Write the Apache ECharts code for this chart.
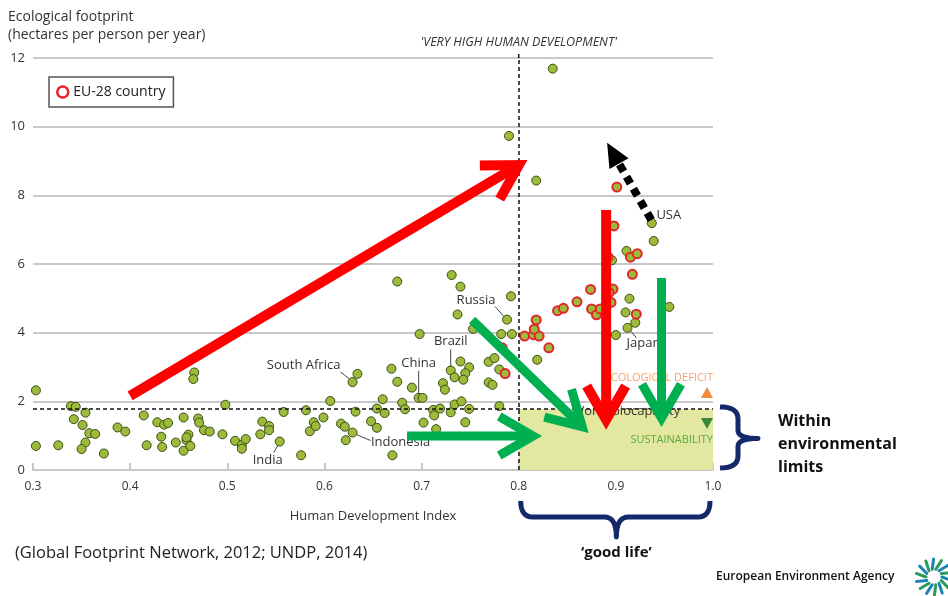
<!DOCTYPE html>
<html>
<head>
<meta charset="utf-8">
<script src="https://cdn.jsdelivr.net/npm/echarts@6/dist/echarts.min.js"></script>
<style>html,body{margin:0;background:#fff}#main{width:948px;height:596px}</style>
</head>
<body>
<div id="main"></div>
<script>
var dom = document.getElementById("main");
var chart = echarts.init(dom);

// HDI / ecological footprint, non EU countries
var hdiWorld = [0.303, 0.303, 0.326, 0.339, 0.344, 0.354, 0.342, 0.351, 0.358, 0.364, 0.354, 0.350, 0.373,
    0.387, 0.395, 0.414, 0.417, 0.428, 0.435, 0.439, 0.432, 0.433, 0.447, 0.455, 0.455, 0.458, 0.460, 0.458,
    0.462, 0.466, 0.465, 0.470, 0.471, 0.476, 0.482, 0.495, 0.498, 0.508, 0.515, 0.515, 0.519, 0.534, 0.536,
    0.543, 0.543, 0.554, 0.558, 0.576, 0.581, 0.585, 0.589, 0.591, 0.599, 0.606, 0.617, 0.621, 0.629, 0.622,
    0.629, 0.634, 0.632, 0.648, 0.654, 0.654, 0.660, 0.662, 0.670, 0.669, 0.675, 0.680, 0.683, 0.690, 0.675,
    0.740, 0.792, 0.737, 0.788, 0.698, 0.753, 0.782, 0.793, 0.697, 0.701, 0.702, 0.715, 0.712, 0.713, 0.719,
    0.730, 0.734, 0.741, 0.745, 0.749, 0.722, 0.724, 0.730, 0.734, 0.740, 0.749, 0.745, 0.743, 0.769, 0.775,
    0.769, 0.773, 0.780, 0.780, 0.819, 0.731, 0.896, 0.911, 0.914, 0.910, 0.920, 0.912, 0.900, 0.955, 0.818,
    0.937, 0.939, 0.835, 0.790];
var efWorld = [2.32, 0.70, 0.72, 1.86, 1.84, 1.67, 1.48, 1.31, 1.07, 1.05, 0.80, 0.61, 0.48,
    1.24, 1.12, 1.59, 0.72, 1.39, 1.32, 1.37, 0.97, 0.67, 0.80, 1.53, 0.56, 0.87, 1.03, 0.95,
    0.70, 2.84, 2.65, 1.50, 1.38, 1.16, 1.12, 1.04, 1.90, 0.85, 0.73, 0.62, 0.90, 1.04, 1.41,
    1.28, 1.16, 0.83, 1.69, 0.43, 1.74, 1.13, 1.39, 1.28, 1.53, 2.01, 1.35, 1.26, 1.09, 0.87,
    2.56, 2.80, 1.70, 1.42, 1.23, 1.79, 2.06, 1.66, 0.43, 2.95, 2.57, 1.96, 1.77, 2.40, 5.49,
    5.34, 5.06, 4.53, 4.38, 3.96, 4.11, 3.96, 3.96, 2.10, 2.10, 1.38, 1.19, 1.75, 1.59, 1.79,
    1.68, 1.91, 2.00, 1.39, 1.78, 2.53, 2.34, 2.90, 2.70, 3.16, 2.99, 2.82, 2.63, 3.15, 3.26,
    2.55, 2.48, 2.93, 1.86, 3.21, 5.68, 6.11, 6.38, 4.99, 4.59, 4.29, 4.14, 3.93, 4.75, 8.43,
    7.19, 6.67, 11.69, 9.73];

// EU-28 countries
var hdiEU = [0.786, 0.783, 0.806, 0.815, 0.821, 0.816, 0.818, 0.831, 0.840, 0.846, 0.860, 0.874, 0.875,
    0.880, 0.884, 0.897, 0.893, 0.895, 0.917, 0.915, 0.922, 0.921, 0.892, 0.898, 0.901];
var efEU = [2.81, 3.56, 3.90, 3.94, 3.90, 4.10, 4.37, 3.56, 4.64, 4.71, 4.90, 5.26, 4.69,
    4.52, 4.69, 5.27, 5.17, 4.88, 5.70, 6.20, 6.30, 4.54, 6.20, 7.11, 8.24];

var xTicks = [0.3, 0.4, 0.5, 0.6, 0.7, 0.8, 0.9, 1.0];
var yTicks = [0, 2, 4, 6, 8, 10, 12];
var veryHighHdi = 0.8;
var biocapacity = 1.78;

// named countries: [name, hdi, ef, text offset px, leader line offsets px]
var named = [
    ['Russia', 0.788, 4.38, [-31, -19], [[-12, -13], [-3, -3]]],
    ['Brazil', 0.730, 2.90, [0, -29], [[0, -21], [0, -4]]],
    ['China', 0.697, 2.10, [0, -35], [[0, -27], [0, -4]]],
    ['South Africa', 0.629, 2.56, [-49, -17], [[-12, -10], [-3, -3]]],
    ['Indonesia', 0.629, 1.09, [48, 10], [[18, 8], [4, 2]]],
    ['India', 0.554, 0.83, [-12, 19], [[-6, 11], [-2, 4]]],
    ['USA', 0.937, 7.19, [17, -8], null],
    ['Japan', 0.912, 4.14, [16, 15], [[3, 3], [9, 10]]]
];

// arrows in data space: [from, to, colour, width]
var arrows = [
    [[0.400, 2.16], [0.809, 9.03], '#ff0000', 10],
    [[0.890, 7.57], [0.890, 1.17], '#ff0000', 10],
    [[0.752, 4.37], [0.872, 1.08], '#00b050', 9],
    [[0.685, 0.99], [0.824, 0.99], '#00b050', 9],
    [[0.947, 5.59], [0.947, 1.25], '#00b050', 9]
];
var dottedArrow = [[0.9365, 7.28], [0.891, 9.53]];

function pairs(xs, ys) {
    return xs.map(function (x, i) { return [x, ys[i]]; });
}

var font = 'Open Sans';

option = {
    animation: false,
    backgroundColor: '#fff',
    textStyle: { fontFamily: font },
    grid: { left: 33, right: 235, top: 58, bottom: 126 },
    legend: {
        left: 49, top: 77,
        padding: [8, 8, 8, 7],
        borderColor: '#555', borderWidth: 1.5, borderRadius: 0,
        itemWidth: 11, itemHeight: 11, itemGap: 6,
        textStyle: { fontSize: 14, color: '#222', fontFamily: font },
        data: [{ name: 'EU-28 country', icon: 'circle',
            itemStyle: { color: '#fff', borderColor: '#e3262b', borderWidth: 2.5 } }]
    },
    xAxis: {
        type: 'value', min: 0.3, max: 1.0, interval: 0.1,
        name: 'Human Development Index', nameLocation: 'middle', nameGap: 40,
        nameTextStyle: { fontSize: 13, color: '#333', fontFamily: font },
        axisLine: { lineStyle: { color: '#c8c8c8', width: 2 } },
        axisTick: { show: true, inside: true, length: 7, lineStyle: { color: '#c8c8c8', width: 2 } },
        axisLabel: { fontSize: 12, color: '#333', margin: 11,
            formatter: function (v) { return v.toFixed(1); } },
        splitLine: { show: false }
    },
    yAxis: {
        type: 'value', min: 0, max: 12, interval: 2,
        axisLine: { show: false },
        axisTick: { show: false },
        axisLabel: { fontSize: 13, color: '#333', margin: 8 },
        splitLine: { lineStyle: { color: '#c8c8c8', width: 2 } }
    },
    series: [
        {
            name: 'zones', type: 'line', data: [], z: 1,
            markArea: {
                silent: true,
                itemStyle: { color: '#e3e8a0' },
                data: [[{ coord: [veryHighHdi, 0] }, { coord: [1.0, biocapacity] }]]
            },
            markLine: {
                silent: true, symbol: 'none', label: { show: false },
                lineStyle: { color: '#111', type: [4, 3], width: 1.5 },
                data: [{ xAxis: veryHighHdi }, { yAxis: biocapacity }]
            }
        },
        {
            name: 'World', type: 'scatter', symbolSize: 9, z: 3,
            itemStyle: { color: '#9cbb3a', borderColor: '#3e4c16', borderWidth: 1, opacity: 1 },
            data: pairs(hdiWorld, efWorld)
        },
        {
            name: 'EU-28 country', type: 'scatter', symbolSize: 9, z: 4,
            itemStyle: { color: '#9cbb3a', borderColor: '#e3262b', borderWidth: 2, opacity: 1 },
            data: pairs(hdiEU, efEU)
        }
    ]
};

chart.setOption(option, true);

function px(p) { return chart.convertToPixel({ gridIndex: 0 }, p); }

var g = [];
var ink = '#333';

// titles and notes
g.push({ type: 'text', x: 8, y: 8, z: 10,
    style: { text: 'Ecological footprint\n(hectares per person per year)', fill: ink,
        font: '14px "Open Sans"', lineHeight: 18, verticalAlign: 'top' } });
var vx = px([veryHighHdi, 12]);
g.push({ type: 'line', z: 2, shape: { x1: vx[0], y1: vx[1], x2: vx[0], y2: vx[1] - 6 },
    style: { stroke: '#111', lineWidth: 1.5, lineDash: [4, 3] } });
g.push({ type: 'text', x: vx[0], y: 42, z: 10,
    style: { text: "'VERY HIGH HUMAN DEVELOPMENT'", fill: ink, font: 'italic 12.5px "Open Sans"',
        align: 'center', verticalAlign: 'middle' } });

// zone texts
var right = px([1.0, 0])[0];
var pDef = px([1.0, 2.68]), pSus = px([1.0, 0.87]), pBio = px([0.855, 1.72]);
g.push({ type: 'text', x: right, y: pDef[1], z: 5,
    style: { text: 'ECOLOGICAL DEFICIT', fill: '#f5a36a', font: '11px "Open Sans"', align: 'right', verticalAlign: 'middle' } });
g.push({ type: 'text', x: right, y: pSus[1], z: 5,
    style: { text: 'SUSTAINABILITY', fill: '#5aa842', font: '11px "Open Sans"', align: 'right', verticalAlign: 'middle' } });
g.push({ type: 'text', x: pBio[0], y: pBio[1], z: 5,
    style: { text: 'World biocapacity', fill: ink, font: '13px "Open Sans"', align: 'left', verticalAlign: 'middle' } });
var tU = px([1.0, 2.24]), tD = px([1.0, 1.37]);
g.push({ type: 'polygon', z: 5, shape: { points: [[tU[0] - 12, tU[1] + 5], [tU[0] - 6, tU[1] - 6], [tU[0], tU[1] + 5]] },
    style: { fill: '#f28a3c' } });
g.push({ type: 'polygon', z: 5, shape: { points: [[tD[0] - 12, tD[1] - 5], [tD[0] - 6, tD[1] + 6], [tD[0], tD[1] - 5]] },
    style: { fill: '#3a8a3a' } });

// country labels
named.forEach(function (n) {
    var p = px([n[1], n[2]]);
    g.push({ type: 'text', x: p[0] + n[3][0], y: p[1] + n[3][1], z: 6,
        style: { text: n[0], fill: ink, font: '13px "Open Sans"', align: 'center', verticalAlign: 'middle' } });
    if (n[4]) {
        g.push({ type: 'line', z: 6,
            shape: { x1: p[0] + n[4][0][0], y1: p[1] + n[4][0][1], x2: p[0] + n[4][1][0], y2: p[1] + n[4][1][1] },
            style: { stroke: '#444', lineWidth: 1 } });
    }
});

// big arrows
function addArrow(from, to, color, w) {
    var a = px(from), b = px(to);
    var ang = Math.atan2(a[1] - b[1], a[0] - b[0]);
    var s = 30 * Math.PI / 180, head = 39;
    var back = w / (2 * Math.sin(s));
    var tip = [b[0] + back * Math.cos(ang), b[1] + back * Math.sin(ang)];
    var p1 = [tip[0] + head * Math.cos(ang + s), tip[1] + head * Math.sin(ang + s)];
    var p2 = [tip[0] + head * Math.cos(ang - s), tip[1] + head * Math.sin(ang - s)];
    g.push({ type: 'line', z: 20, shape: { x1: a[0], y1: a[1], x2: tip[0], y2: tip[1] },
        style: { stroke: color, lineWidth: w } });
    g.push({ type: 'polyline', z: 20, shape: { points: [p1, tip, p2] },
        style: { stroke: color, lineWidth: w, fill: null, lineJoin: 'miter', miterLimit: 10 } });
}
arrows.forEach(function (r) { addArrow(r[0], r[1], r[2], r[3]); });

// dotted black arrow
(function () {
    var a = px(dottedArrow[0]), b = px(dottedArrow[1]);
    var ang = Math.atan2(b[1] - a[1], b[0] - a[0]);
    var len = 24, half = 11;
    var base = [b[0] - len * Math.cos(ang), b[1] - len * Math.sin(ang)];
    var nx = -Math.sin(ang), ny = Math.cos(ang);
    g.push({ type: 'line', z: 20, shape: { x1: a[0], y1: a[1], x2: base[0], y2: base[1] },
        style: { stroke: '#000', lineWidth: 8, lineDash: [8, 6] } });
    g.push({ type: 'polygon', z: 20,
        shape: { points: [b, [base[0] + nx * half, base[1] + ny * half], [base[0] - nx * half, base[1] - ny * half]] },
        style: { fill: '#000' } });
})();

// braces, built from quadratic curve pieces
function quad(pts, p0, c, p1) {
    for (var i = 1; i <= 8; i++) {
        var t = i / 8, u = 1 - t;
        pts.push([u * u * p0[0] + 2 * u * t * c[0] + t * t * p1[0], u * u * p0[1] + 2 * u * t * c[1] + t * t * p1[1]]);
    }
}
var navy = '#14286a';
var b0 = px([veryHighHdi, 0]), b1 = px([1.0, 0]), bTop = px([1.0, biocapacity]);
var L = b0[0] + 2, R = b1[0] - 3, by = b0[1] + 47, bm = (L + R) / 2 + 1;
var hb = [[L, by - 16]];
quad(hb, [L, by - 16], [L, by], [L + 12, by]);
hb.push([bm - 12, by]);
quad(hb, [bm - 12, by], [bm, by], [bm, by + 20]);
quad(hb, [bm, by + 20], [bm, by], [bm + 12, by]);
hb.push([R - 12, by]);
quad(hb, [R - 12, by], [R, by], [R, by - 16]);
g.push({ type: 'polyline', z: 10, shape: { points: hb },
    style: { stroke: navy, lineWidth: 5, fill: null, lineJoin: 'round' } });

var T = bTop[1] - 2, B = b1[1] - 2, bx = R + 28, my = (T + B) / 2 + 1;
var vb = [[R + 10, T]];
quad(vb, [R + 10, T], [bx, T], [bx, T + 12]);
vb.push([bx, my - 8]);
quad(vb, [bx, my - 8], [bx, my], [bx + 20, my]);
quad(vb, [bx + 20, my], [bx, my], [bx, my + 8]);
vb.push([bx, B - 12]);
quad(vb, [bx, B - 12], [bx, B], [R + 10, B]);
g.push({ type: 'polyline', z: 10, shape: { points: vb },
    style: { stroke: navy, lineWidth: 5, fill: null, lineJoin: 'round' } });

g.push({ type: 'text', x: 778, y: 444, z: 10,
    style: { text: 'Within\nenvironmental\nlimits', fill: '#111', font: 'bold 16px "Open Sans"',
        lineHeight: 23, verticalAlign: 'middle' } });
g.push({ type: 'text', x: bm, y: 553, z: 10,
    style: { text: '\u2018good life\u2019', fill: '#111', font: 'bold 15px "Open Sans"',
        align: 'center', verticalAlign: 'middle' } });

// source and agency
g.push({ type: 'text', x: 15, y: 553, z: 10,
    style: { text: '(Global Footprint Network, 2012; UNDP, 2014)', fill: '#222', font: '16.5px "Open Sans"',
        verticalAlign: 'middle' } });
g.push({ type: 'text', x: 716, y: 577, z: 10,
    style: { text: 'European Environment Agency', fill: '#111', font: '600 12px "Open Sans"',
        verticalAlign: 'middle' } });
(function () {
    var cx = 934, cy = 577;
    for (var i = 0; i < 14; i++) {
        var t = i / 14 * Math.PI * 2;
        var c = i % 2 ? '#2b9a5a' : '#1a86b0';
        g.push({ type: 'line', z: 10,
            shape: { x1: cx + 8 * Math.cos(t), y1: cy + 8 * Math.sin(t), x2: cx + 18 * Math.cos(t + 0.2), y2: cy + 18 * Math.sin(t + 0.2) },
            style: { stroke: c, lineWidth: 3, lineCap: 'round' } });
    }
})();

chart.setOption({ graphic: g });
</script>
</body>
</html>
